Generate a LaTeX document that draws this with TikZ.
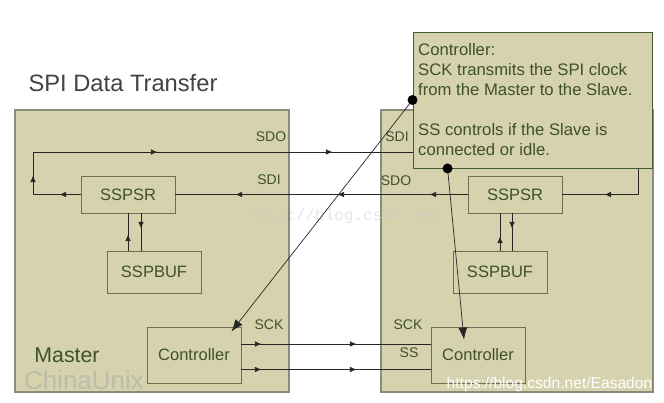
\documentclass[tikz,border=0pt]{standalone}
\usepackage{fontspec}
\setmainfont{Liberation Sans}
\newfontfamily\monofont{Liberation Mono}
\usetikzlibrary{arrows.meta,decorations.markings}

% Colori
\definecolor{sabbia}{RGB}{214,210,174}
\definecolor{bordo}{RGB}{140,140,122}
\definecolor{bordoblocco}{RGB}{110,110,86}
\definecolor{verdenota}{RGB}{68,90,56}
\definecolor{verdescuro}{RGB}{62,82,44}
\definecolor{grigiotitolo}{RGB}{66,66,66}
\definecolor{grigiochiaro}{RGB}{188,188,172}

\tikzset{
  lato/.style={draw=bordo, line width=1.2pt, fill=sabbia, minimum width=#1, minimum height=282pt},
  blocco/.style={draw=bordoblocco, line width=0.9pt, fill=sabbia, minimum width=94pt,
    text=verdescuro, font=\fontsize{16.5}{18}\selectfont},
  etichetta/.style={text=verdescuro, inner sep=0pt, font=\fontsize{14}{16}\selectfont},
  linea/.style={draw=black!85, line width=0.7pt},
  freccia/.style={postaction={decorate, decoration={markings,
    mark=at position #1 with {\arrow{Latex[length=6.5pt,width=5.5pt]}}}}},
  puntatore/.style={draw=black!85, line width=0.7pt, -{Latex[length=12pt,width=9pt]}}
}

\begin{document}
\begin{tikzpicture}[x=1pt,y=-1pt]

  % Area della figura
  \useasboundingbox (0,0) rectangle (664,402);

  % Titolo
  \node[text=grigiotitolo, inner sep=0pt, font=\fontsize{23.7}{26}\selectfont] (titolo) at (123,83.5) {SPI Data Transfer};

  % Lato Master e lato Slave
  \node[lato=274pt] (master) at (152,251) {};
  \node[lato=272pt] (slave) at (517,251) {};

  % Filigrane
  \node[text=grigiochiaro, inner sep=0pt, font=\fontsize{26}{28}\selectfont] (chinaunix) at (84,380) {ChinaUnix};
  \node[text=black!20, opacity=0.5, inner sep=0pt, font={\monofont\fontsize{16}{18}\selectfont}] (filigrana) at (344,216) {http://blog.csdn.net};

  % Blocchi del Master
  \node[blocco, minimum height=37pt] (sspsrM) at (128,194.5) {SSPSR};
  \node[blocco, minimum height=42pt] (sspbufM) at (154,272) {SSPBUF};
  \node[blocco, minimum height=56pt] (ctrlM) at (194,355) {Controller};

  % Blocchi dello Slave
  \node[blocco, minimum height=37pt] (sspsrS) at (515,194.5) {SSPSR};
  \node[blocco, minimum height=42pt] (sspbufS) at (500,272) {SSPBUF};
  \node[blocco, minimum height=56pt] (ctrlS) at (478,355) {Controller};

  % Etichette dei segnali
  \node[etichetta] (sdoM) at (271,137) {SDO};
  \node[etichetta] (sdiM) at (269,180) {SDI};
  \node[etichetta] (sckM) at (269,325) {SCK};
  \node[etichetta] (sdiS) at (397,137) {SDI};
  \node[etichetta] (sdoS) at (396,181) {SDO};
  \node[etichetta] (sckS) at (408,325) {SCK};
  \node[etichetta] (ssS) at (409,353) {SS};
  \node[etichetta, font=\fontsize{21.3}{24}\selectfont] (nomeM) at (67,355) {Master};

  % Angoli della linea SDO
  \coordinate (angoloSx) at (33,152);
  \coordinate (angoloDx) at (638,152);

  % Linea SDO (Master) -> SDI (Slave)
  \draw[linea, freccia=21pt, freccia=66.5pt, freccia=214.5pt, freccia=389.5pt, freccia=771pt]
    (sspsrM.west) -| (angoloSx) -- (angoloDx) |- (sspsrS.east);

  % Linea SDO (Slave) -> SDI (Master)
  \draw[linea, freccia=38pt, freccia=130pt, freccia=232pt] (sspsrS.west) -- (sspsrM.east);

  % Collegamenti SSPSR - SSPBUF
  \draw[linea, freccia=16pt] (sspbufM.north -| sspsrM.south) -- (sspsrM.south);
  \draw[linea, freccia=15pt] ([xshift=13pt]sspsrM.south) -- ([xshift=13pt]sspsrM.south |- sspbufM.north);
  \draw[linea, freccia=14pt] (sspbufS.north) -- (sspbufS.north |- sspsrS.south);
  \draw[linea, freccia=15pt] ([xshift=12pt]sspbufS.north |- sspsrS.south) -- ([xshift=12pt]sspbufS.north);

  % Linee SCK e SS
  \draw[linea, freccia=20pt, freccia=115pt] ([yshift=11pt]ctrlM.east) -- ([yshift=11pt]ctrlS.west);
  \draw[linea, freccia=20pt, freccia=115pt] ([yshift=-14.5pt]ctrlM.east) -- ([yshift=-14.5pt]ctrlS.west);

  % Nota sul Controller
  \node[draw=verdenota, line width=0.9pt, fill=sabbia, minimum width=239pt, minimum height=136pt] (nota) at (532.5,100) {};
  \node[anchor=north west, align=left, inner sep=0pt, text=verdescuro, font=\fontsize{16.7}{20}\selectfont] (testonota) at (418,42.8)
    {Controller:\\SCK transmits the SPI clock\\from the Master to the Slave.\\[20pt]SS controls if the Slave is\\connected or idle.};

  % Punti della nota
  \coordinate (puntoSCK) at (nota.west);
  \coordinate (puntoSS) at ([xshift=35pt]nota.south west);

  % Puntatori verso i Controller
  \draw[puntatore] (puntoSCK) -- ([shift={(-10,5)}]ctrlM.north east);
  \draw[puntatore] (puntoSS) -- ([shift={(-14,13)}]ctrlS.north);
  \fill (puntoSCK) circle (5pt);
  \fill (puntoSS) circle (5pt);

  % Filigrana in basso
  \node[text=white, inner sep=0pt, anchor=base, font=\fontsize{15.6}{18}\selectfont] (firma) at (549.5,388) {https://blog.csdn.net/Easadon};

\end{tikzpicture}
\end{document}
